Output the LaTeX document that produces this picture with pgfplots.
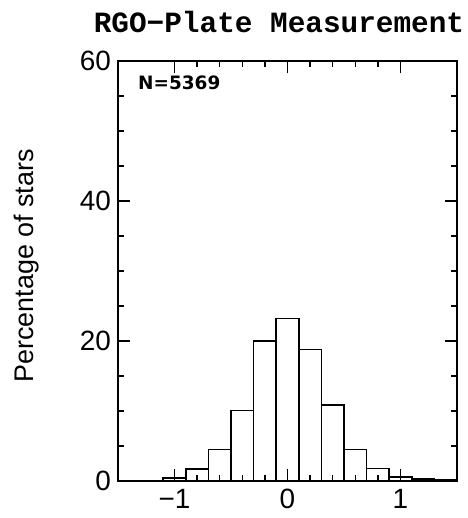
\documentclass[border=0pt]{standalone}
\usepackage{fontspec}
\setmainfont{Liberation Sans}
\newfontfamily\titlefont{Liberation Mono}
\newfontfamily\notefont{DejaVu Sans}
\usepackage{pgfplots}
\pgfplotsset{compat=1.18}

\begin{document}
\begin{tikzpicture}
% fixed page frame around the axis box
\path[use as bounding box] (-118bp,-37bp) rectangle (350bp,481bp);
\begin{axis}[
  at={(0,0)}, anchor=south west,
  scale only axis, width=339bp, height=420bp,
  xmin=-1.5, xmax=1.5, ymin=0, ymax=60,
  xtick={-1,0,1}, xticklabels={−1,0,1},
  ytick={0,20,40,60},
  minor x tick num=4, minor y tick num=3,
  tick align=inside,
  major tick length=12bp, minor tick length=6bp,
  every tick/.style={black, line width=1.3bp},
  axis line style={line width=1.6bp},
  axis on top,
  tick label style={font=\fontsize{28}{28}\selectfont},
  /pgf/number format/assume math mode=true,
  xticklabel style={yshift=-4.5bp},
  yticklabel style={xshift=-3.5bp},
  ylabel={Percentage of stars},
  ylabel style={font=\fontsize{27}{27}\selectfont,
    at={(axis description cs:0,0.512)}, anchor=center, yshift=91bp},
]
% histogram of the residuals, bin width 0.2
\addplot[ybar interval, fill=none, draw=black, line width=1.6bp] coordinates {
  (-1.5,0.05) (-1.3,0.1) (-1.1,0.4) (-0.9,1.7) (-0.7,4.5) (-0.5,10.1)
  (-0.3,20.0) (-0.1,23.2) (0.1,18.8) (0.3,10.9) (0.5,4.5) (0.7,1.8)
  (0.9,0.6) (1.1,0.3) (1.3,0.15) (1.5,0.15)
};
\end{axis}
\node[anchor=base, inner sep=0,
  font=\titlefont\bfseries\fontsize{29.5}{30}\selectfont]
  at (161bp,448bp) {RGO−Plate Measurement};
\node[anchor=base west, inner sep=0,
  font=\notefont\bfseries\fontsize{18.5}{18}\selectfont]
  at (20bp,391bp) {N=5369};
\end{tikzpicture}
\end{document}
